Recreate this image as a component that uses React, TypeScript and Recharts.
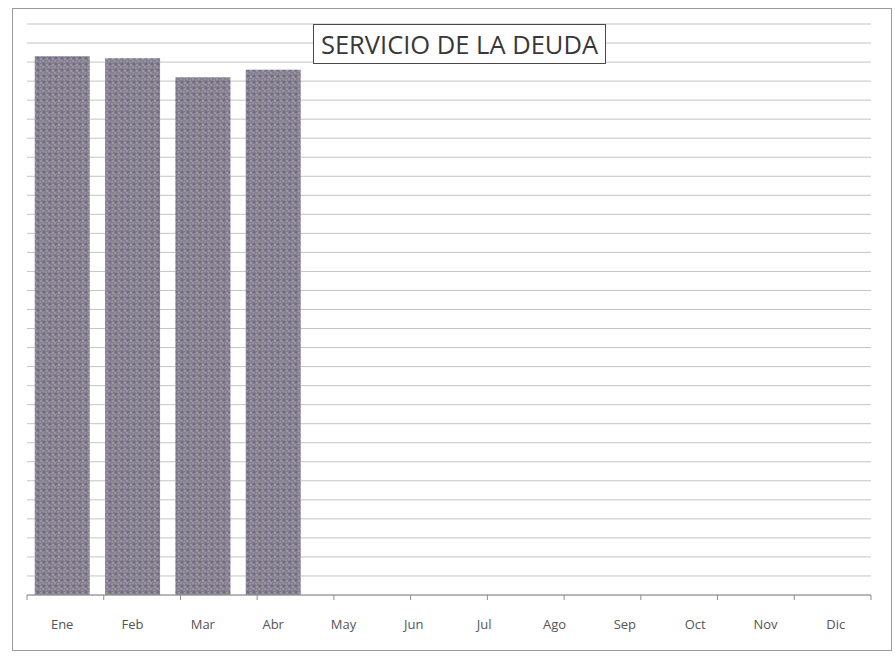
import { BarChart, Bar, XAxis, YAxis, CartesianGrid } from "recharts";

const months = ["Ene", "Feb", "Mar", "Abr", "May", "Jun", "Jul", "Ago", "Sep", "Oct", "Nov", "Dic"];
// only the first four months have a value
const servicio = [283, 282, 272, 276, null, null, null, null, null, null, null, null];
const yTicks = Array.from({ length: 31 }, (_, i) => i * 10);
const edgeTicks = [0, 1, 2, 3, 4, 5, 6, 7, 8, 9, 10, 11, 12];

const data = months.map((m, i) => ({ mes: m, valor: servicio[i] }));

const W = 895;
const H = 656;

const NoLabel = () => <g />;

export default function App() {
    return (
        <div style={{ position: "absolute", left: 0, top: 0, width: W, height: H, background: "#fff" }}>
            <div
                style={{
                    position: "absolute",
                    left: 12,
                    top: 8,
                    width: 878,
                    height: 641,
                    border: "1px solid #9a9a9a",
                }}
            />
            <BarChart
                width={W}
                height={H}
                data={data}
                margin={{ top: 24, right: 24, bottom: 31, left: 27 }}
                barCategoryGap="11%"
            >
                <defs>
                    <pattern id="scan" width="6" height="6" patternUnits="userSpaceOnUse">
                        <rect width="6" height="6" fill="#857d91" />
                        <rect x="0" y="0" width="2" height="2" fill="#9a8fa9" />
                        <rect x="3" y="1" width="2" height="2" fill="#8a9483" />
                        <rect x="1" y="3" width="2" height="2" fill="#6f6982" />
                        <rect x="4" y="4" width="2" height="2" fill="#a093a6" />
                        <rect x="2" y="5" width="1" height="1" fill="#7c8a8c" />
                    </pattern>
                </defs>
                <CartesianGrid vertical={false} stroke="#c4c4c4" />
                <YAxis hide domain={[0, 300]} ticks={yTicks} interval={0} />
                {/* tick marks between the months, like the original (id 0 sits next to the plot) */}
                <XAxis
                    xAxisId={0}
                    type="number"
                    domain={[0, 12]}
                    allowDataOverflow
                    ticks={edgeTicks}
                    interval={0}
                    height={1}
                    axisLine={{ stroke: "#8c8c8c" }}
                    tickSize={5}
                    tickLine={{ stroke: "#8c8c8c" }}
                    tick={NoLabel}
                />
                <XAxis
                    xAxisId={1}
                    dataKey="mes"
                    height={29}
                    tickLine={false}
                    axisLine={false}
                    tickMargin={18}
                    tick={{ fill: "#555", fontSize: 13, fontFamily: "Open Sans, sans-serif" }}
                    interval={0}
                />
                <Bar xAxisId={1} dataKey="valor" fill="url(#scan)" isAnimationActive={false} />
            </BarChart>
            <div
                style={{
                    position: "absolute",
                    left: 313,
                    top: 24,
                    width: 291,
                    height: 38,
                    border: "1.5px solid #4a4a4a",
                    background: "#fff",
                    display: "flex",
                    alignItems: "center",
                    justifyContent: "center",
                    fontFamily: "Open Sans, sans-serif",
                    fontSize: 25.5,
                    color: "#383838",
                    whiteSpace: "nowrap",
                }}
            >
                SERVICIO DE LA DEUDA
            </div>
        </div>
    );
}
